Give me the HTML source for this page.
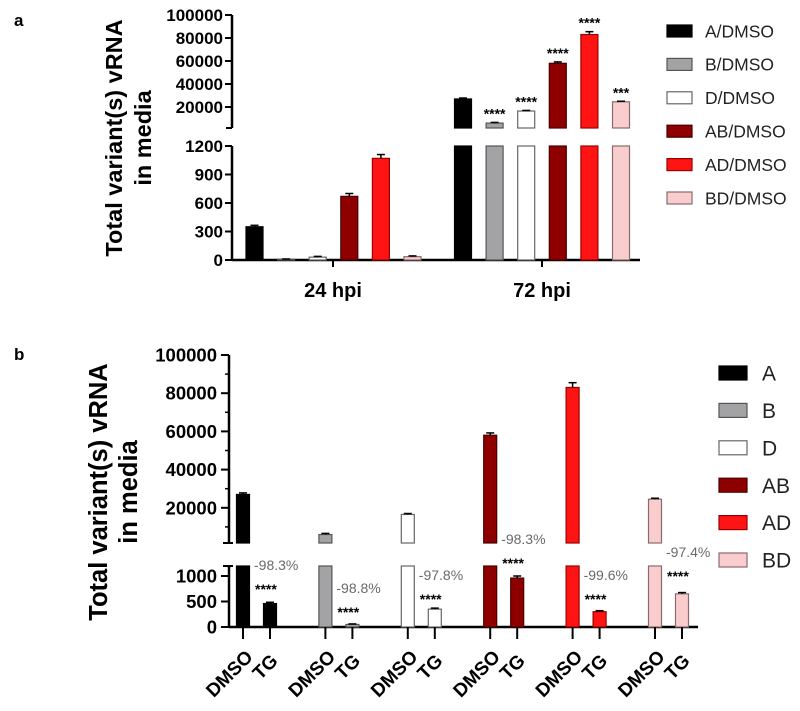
<!DOCTYPE html>
<html><head><meta charset="utf-8">
<style>
html,body{margin:0;padding:0;background:#fff;}
svg{display:block;font-family:"Liberation Sans",Arial,sans-serif;}
</style></head>
<body>
<svg id="fig" width="800" height="711" viewBox="0 0 800 711" xmlns="http://www.w3.org/2000/svg">
<text x="14" y="26" font-size="17" font-weight="bold">a</text>
<text x="14" y="360" font-size="17" font-weight="bold">b</text>
<g font-size="23.5" font-weight="bold" text-anchor="middle">
<text transform="translate(122,138) rotate(-90)">Total variant(s) vRNA</text>
<text transform="translate(151,138) rotate(-90)">in media</text>
</g>
<g font-size="25.5" font-weight="bold" text-anchor="middle">
<text transform="translate(107,492) rotate(-90)">Total variant(s) vRNA</text>
<text transform="translate(137,492) rotate(-90)">in media</text>
</g>
<g id="a"></g>
<g id="b"></g>
<g id="legA"></g>
<g id="legB"></g>
</svg>
<script>
// ---- data ----
const seriesNames = ["A","B","D","AB","AD","BD"];
const seriesColors = ["#000000","#a3a3a6","#ffffff","#8e0000","#ff1414","#f9cdcd"];
const strokeColors = ["#000000","#555555","#666666","#4a0000","#990000","#8a6a6a"];
const groupsA = ["24 hpi","72 hpi"];
const values24 = [350, 8, 30, 670, 1070, 35];
const err24 = [15, 3, 8, 30, 40, 8];
const values72 = [27000, 6000, 16500, 58000, 83000, 24500];
const err72 = [800, 600, 500, 1200, 2500, 500];
const stars72 = ["", "****", "****", "****", "****", "***"];
const upperTicksA = [20000, 40000, 60000, 80000, 100000];
const lowerTicksA = [0, 300, 600, 900, 1200];
const dmsoB = [27000, 6000, 16500, 58000, 83000, 24500];
const tgB = [460, 50, 350, 960, 300, 650];
const tgErr = [25, 10, 20, 40, 20, 25];
const pctB = ["-98.3%","-98.8%","-97.8%","-98.3%","-99.6%","-97.4%"];
const pctY = [565, 588, 575, 539, 575, 552];
const upperTicksB = [20000, 40000, 60000, 80000, 100000];
const lowerTicksB = [0, 500, 1000];
const ticklabelsB = ["DMSO","TG"];

const NS = "http://www.w3.org/2000/svg";
function mk(parent, tag, attrs, text){
  const e = document.createElementNS(NS, tag);
  for (const k in attrs) e.setAttribute(k, attrs[k]);
  if (text !== undefined) e.textContent = text;
  parent.appendChild(e); return e;
}

// ---- panel a ----
(function(){
  const g = document.getElementById('a');
  const ax = 232, up0 = 130, up1 = 15, upTop = 128, lo0 = 260, lo1 = 146;
  const yU = v => up0 - v/100000*(up0-up1);
  const yL = v => lo0 - v/1200*(lo0-lo1);
  const xA = (gi, si) => (gi===0?254.5:463) + si*31.6;
  const bw = 17;
  let e = mk(g,'line',{x1:ax,y1:yU(100000),x2:ax,y2:upTop,stroke:'#000','stroke-width':2.5});
   
  e = mk(g,'line',{x1:ax,y1:lo1,x2:ax,y2:lo0,stroke:'#000','stroke-width':2.5});
   
  e = mk(g,'line',{x1:ax-6,y1:upTop,x2:ax,y2:upTop,stroke:'#000','stroke-width':2});
  e = mk(g,'line',{x1:ax,y1:lo0,x2:640,y2:lo0,stroke:'#000','stroke-width':2.5});
   
  upperTicksA.forEach(v=>{
    mk(g,'line',{x1:ax-7,y1:yU(v),x2:ax,y2:yU(v),stroke:'#000','stroke-width':2});
    const t = mk(g,'text',{x:ax-9,y:yU(v)+6,'text-anchor':'end','font-size':17,'font-weight':'bold'},v);
     
  });
  lowerTicksA.forEach(v=>{
    mk(g,'line',{x1:ax-7,y1:yL(v),x2:ax,y2:yL(v),stroke:'#000','stroke-width':2});
    const t = mk(g,'text',{x:ax-9,y:yL(v)+6,'text-anchor':'end','font-size':17,'font-weight':'bold'},v);
     
  });
  [333,542].forEach((x,i)=>{
    mk(g,'line',{x1:x,y1:lo0,x2:x,y2:lo0+7,stroke:'#000','stroke-width':2});
    const t = mk(g,'text',{x:x,y:297,'text-anchor':'middle','font-size':20,'font-weight':'bold'},groupsA[i]);
     
  });
  values24.forEach((v,i)=>{
    const x = xA(0,i)-bw/2;
    const r = mk(g,'rect',{x:x,y:yL(v),width:bw,height:lo0-yL(v),fill:seriesColors[i],stroke:strokeColors[i],'stroke-width':1.2});
     
    mk(g,'line',{x1:xA(0,i),y1:yL(v),x2:xA(0,i),y2:yL(v+err24[i]),stroke:'#000','stroke-width':1.5});
    mk(g,'line',{x1:xA(0,i)-4,y1:yL(v+err24[i]),x2:xA(0,i)+4,y2:yL(v+err24[i]),stroke:'#000','stroke-width':1.5});
  });
  values72.forEach((v,i)=>{
    const x = xA(1,i)-bw/2;
    let r = mk(g,'rect',{x:x,y:yU(v),width:bw,height:upTop-yU(v),fill:seriesColors[i],stroke:strokeColors[i],'stroke-width':1.2});
     
    mk(g,'rect',{x:x,y:lo1,width:bw,height:lo0-lo1,fill:seriesColors[i],stroke:strokeColors[i],'stroke-width':1.2});
    mk(g,'line',{x1:xA(1,i),y1:yU(v),x2:xA(1,i),y2:yU(v+err72[i]),stroke:'#000','stroke-width':1.5});
    mk(g,'line',{x1:xA(1,i)-4,y1:yU(v+err72[i]),x2:xA(1,i)+4,y2:yU(v+err72[i]),stroke:'#000','stroke-width':1.5});
    if (stars72[i]){
      const t = mk(g,'text',{x:xA(1,i),y:yU(v+err72[i])-4,'text-anchor':'middle','font-size':14,'font-weight':'bold'},stars72[i]);
       
    }
  });
})();

// ---- panel b ----
(function(){
  const g = document.getElementById('b');
  const ax = 229, up0 = 546, up1 = 355, upTop = 543, lo0 = 627, loTop = 566;
  const yU = v => up0 - v/100000*(up0-up1);
  const yL = v => lo0 - v/1000*51;
  const xD = i => 243 + i*82.4;
  const xT = i => xD(i) + 27;
  const bw = 13;
  let e = mk(g,'line',{x1:ax,y1:yU(100000),x2:ax,y2:upTop,stroke:'#000','stroke-width':2.5});
   
  mk(g,'line',{x1:ax-6,y1:upTop,x2:ax+4,y2:upTop,stroke:'#000','stroke-width':2});
  e = mk(g,'line',{x1:ax,y1:loTop,x2:ax,y2:lo0,stroke:'#000','stroke-width':2.5});
   
  mk(g,'line',{x1:ax-6,y1:loTop,x2:ax+4,y2:loTop,stroke:'#000','stroke-width':2});
  e = mk(g,'line',{x1:ax,y1:lo0,x2:698,y2:lo0,stroke:'#000','stroke-width':2.5});
   
  upperTicksB.forEach(v=>{
    mk(g,'line',{x1:ax-8,y1:yU(v),x2:ax,y2:yU(v),stroke:'#000','stroke-width':2});
    mk(g,'line',{x1:ax-4,y1:yU(v-10000),x2:ax,y2:yU(v-10000),stroke:'#000','stroke-width':1.5});
    const t = mk(g,'text',{x:ax-12,y:yU(v)+6.5,'text-anchor':'end','font-size':18.5,'font-weight':'bold'},v);
     
  });
  lowerTicksB.forEach(v=>{
    mk(g,'line',{x1:ax-8,y1:yL(v),x2:ax,y2:yL(v),stroke:'#000','stroke-width':2});
    const t = mk(g,'text',{x:ax-12,y:yL(v)+6.5,'text-anchor':'end','font-size':18.5,'font-weight':'bold'},v);
     
  });
  dmsoB.forEach((v,i)=>{
    let r = mk(g,'rect',{x:xD(i)-bw/2,y:yU(v),width:bw,height:upTop-yU(v),fill:seriesColors[i],stroke:strokeColors[i],'stroke-width':1.2});
     
    mk(g,'rect',{x:xD(i)-bw/2,y:loTop,width:bw,height:lo0-loTop,fill:seriesColors[i],stroke:strokeColors[i],'stroke-width':1.2});
    mk(g,'line',{x1:xD(i),y1:yU(v),x2:xD(i),y2:yU(v+err72[i]),stroke:'#000','stroke-width':1.5});
    mk(g,'line',{x1:xD(i)-4,y1:yU(v+err72[i]),x2:xD(i)+4,y2:yU(v+err72[i]),stroke:'#000','stroke-width':1.5});
    const tv = tgB[i];
    r = mk(g,'rect',{x:xT(i)-bw/2,y:yL(tv),width:bw,height:lo0-yL(tv),fill:seriesColors[i],stroke:strokeColors[i],'stroke-width':1.2});
     
    mk(g,'line',{x1:xT(i)-4,y1:yL(tv+tgErr[i]),x2:xT(i)+4,y2:yL(tv+tgErr[i]),stroke:'#000','stroke-width':1.5});
    mk(g,'line',{x1:xT(i),y1:yL(tv),x2:xT(i),y2:yL(tv+tgErr[i]),stroke:'#000','stroke-width':1.5});
    let t = mk(g,'text',{x:xD(i)+11,y:pctY[i]+5,'font-size':14,fill:'#6a6a6a'},pctB[i]);
     
    t = mk(g,'text',{x:xD(i)+12,y:pctY[i]+29,'font-size':14,'font-weight':'bold'},'****');
     
    [xD(i),xT(i)].forEach((x,k)=>{
      mk(g,'line',{x1:x,y1:lo0,x2:x,y2:lo0+12,stroke:'#000','stroke-width':2});
      const ax2 = k===0?x+11:x+9;
      const ty = k===0?658:662;
      const lt = mk(g,'text',{x:ax2,y:ty,'text-anchor':'end','font-size':19,'font-weight':'bold',transform:`rotate(-45 ${ax2} ${ty})`},ticklabelsB[k]);
       
    });
  });
})();

// ---- legends ----
function legend(id, labels, x0, y0, step, w, h, tx, fs, prefix){
  const g = document.getElementById(id);
  labels.forEach((l,i)=>{
    const y = y0 + i*step;
    const grp = mk(g,'g',{});
    
    
    mk(grp,'rect',{x:x0,y:y-h/2,width:w,height:h,fill:seriesColors[i],stroke:strokeColors[i],'stroke-width':1.2});
    mk(grp,'text',{x:tx,y:y+fs*0.36,'font-size':fs,fill:'#222'},l);
  });
}
legend('legA', seriesNames.map(s=>s+'/DMSO'), 667, 31, 33.4, 25, 12, 705, 17.5, 'a');
legend('legB', seriesNames, 719, 373, 37.4, 28, 14, 762, 21, 'b');
</script>
</body></html>
